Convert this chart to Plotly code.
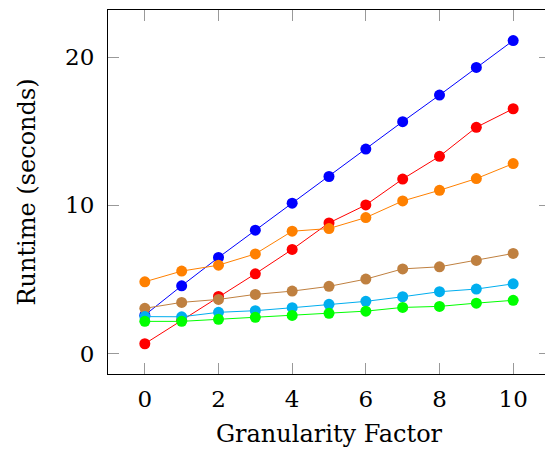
import plotly.graph_objects as go

x = list(range(11))
blue = [2.6, 4.58, 6.49, 8.33, 10.15, 11.95, 13.8, 15.65, 17.44, 19.31, 21.12]
red = [0.67, 2.25, 3.86, 5.39, 7.03, 8.82, 10.03, 11.78, 13.31, 15.27, 16.52]
orange = [4.85, 5.57, 5.97, 6.73, 8.26, 8.44, 9.18, 10.3, 11.02, 11.81, 12.82]
brown = [3.06, 3.46, 3.66, 4.0, 4.22, 4.54, 5.03, 5.72, 5.86, 6.29, 6.76]
cyan = [2.5, 2.49, 2.79, 2.9, 3.1, 3.33, 3.53, 3.84, 4.18, 4.36, 4.71]
green = [2.18, 2.18, 2.32, 2.45, 2.58, 2.72, 2.87, 3.12, 3.19, 3.41, 3.6]

series = [
    (blue, "#0000ff"),
    (red, "#ff0000"),
    (orange, "#ff8000"),
    (brown, "#bf8040"),
    (cyan, "#00aeef"),
    (green, "#00ff00"),
]

x_ticks = [0, 2, 4, 6, 8, 10]
y_ticks = [0, 10, 20]

fig = go.Figure()
for ys, c in series:
    fig.add_trace(go.Scatter(
        x=x, y=ys, mode="lines+markers",
        line=dict(color=c, width=1),
        marker=dict(color=c, size=11),
        showlegend=False, cliponaxis=False,
    ))

tick_font = dict(family="DejaVu Serif", size=23, color="black")
title_font = dict(family="DejaVu Serif", size=24, color="black")
fig.update_layout(
    width=545, height=448,
    margin=dict(l=100, r=3, t=2, b=82, autoexpand=False),
    plot_bgcolor="white", paper_bgcolor="white",
    font=tick_font,
)
fig.update_xaxes(
    range=[-1, 11], tickvals=x_ticks, ticks="inside", ticklen=11,
    tickcolor="#999999", mirror="ticks", showline=True, linecolor="black",
    linewidth=1, showgrid=False, zeroline=False, automargin=False,
    ticklabelstandoff=4,
    title=dict(text="Granularity Factor", standoff=14, font=title_font),
    tickfont=tick_font,
)
fig.update_yaxes(
    range=[-1.37, 23.18], tickvals=y_ticks, ticks="inside", ticklen=11,
    tickcolor="#999999", mirror="ticks", showline=True, linecolor="black",
    linewidth=1, showgrid=False, zeroline=False, automargin=False,
    ticklabelstandoff=8,
    title=dict(text="Runtime (seconds)", standoff=22, font=title_font),
    tickfont=tick_font,
)
fig.write_html("out.html")
